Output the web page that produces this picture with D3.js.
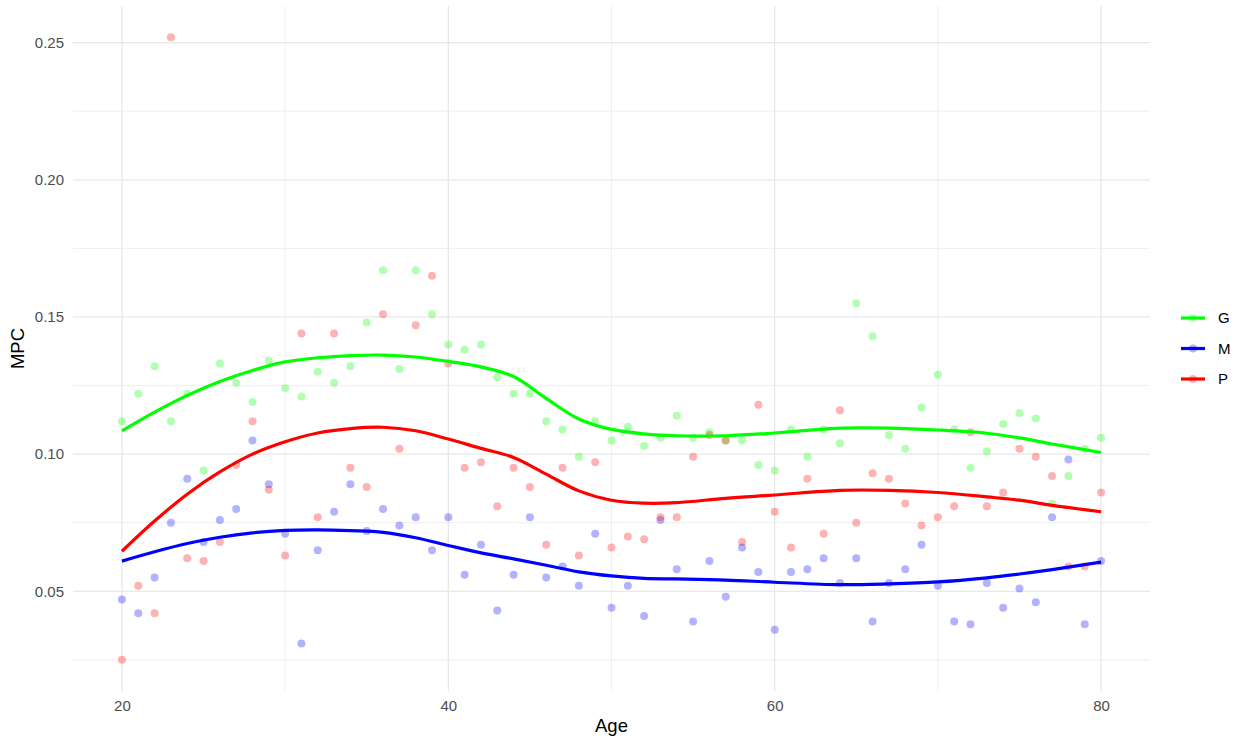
<!DOCTYPE html>
<html>
<head>
<meta charset="utf-8">
<script src="https://cdn.jsdelivr.net/npm/d3@7"></script>
<style>
  body { margin: 0; background: #fff; }
  text { font-family: "Liberation Sans", Arial, sans-serif; }
</style>
</head>
<body>
<div id="chart"></div>
<script>
// Ages on the x axis
const ages = d3.range(20, 81);

const gValues = [0.112, 0.122, 0.132, 0.112, 0.122, 0.094, 0.133, 0.126, 0.119, 0.134,
  0.124, 0.121, 0.130, 0.126, 0.132, 0.148, 0.167, 0.131, 0.167, 0.151,
  0.140, 0.138, 0.140, 0.128, 0.122, 0.122, 0.112, 0.109, 0.099, 0.112,
  0.105, 0.110, 0.103, 0.106, 0.114, 0.106, 0.108, 0.105, 0.105, 0.096,
  0.094, 0.109, 0.099, 0.109, 0.104, 0.155, 0.143, 0.107, 0.102, 0.117,
  0.129, 0.109, 0.095, 0.101, 0.111, 0.115, 0.113, 0.082, 0.092, 0.102, 0.106];
const mValues = [0.047, 0.042, 0.055, 0.075, 0.091, 0.068, 0.076, 0.080, 0.105, 0.089,
  0.071, 0.031, 0.065, 0.079, 0.089, 0.072, 0.080, 0.074, 0.077, 0.065,
  0.077, 0.056, 0.067, 0.043, 0.056, 0.077, 0.055, 0.059, 0.052, 0.071,
  0.044, 0.052, 0.041, 0.076, 0.058, 0.039, 0.061, 0.048, 0.066, 0.057,
  0.036, 0.057, 0.058, 0.062, 0.053, 0.062, 0.039, 0.053, 0.058, 0.067,
  0.052, 0.039, 0.038, 0.053, 0.044, 0.051, 0.046, 0.077, 0.098, 0.038, 0.061];
const pValues = [0.025, 0.052, 0.042, 0.252, 0.062, 0.061, 0.068, 0.096, 0.112, 0.087,
  0.063, 0.144, 0.077, 0.144, 0.095, 0.088, 0.151, 0.102, 0.147, 0.165,
  0.133, 0.095, 0.097, 0.081, 0.095, 0.088, 0.067, 0.095, 0.063, 0.097,
  0.066, 0.070, 0.069, 0.077, 0.077, 0.099, 0.107, 0.105, 0.068, 0.118,
  0.079, 0.066, 0.091, 0.071, 0.116, 0.075, 0.093, 0.091, 0.082, 0.074,
  0.077, 0.081, 0.108, 0.081, 0.086, 0.102, 0.099, 0.092, 0.059, 0.059, 0.086];

// Smoothed trend lines, read at these ages
const smoothAges = [20, 22, 24, 26, 28, 30, 32, 34, 36, 38, 40, 42, 44, 46, 48, 50, 52, 54, 57, 60, 64, 67, 70, 73, 75, 77, 80];
const gSmooth = [0.1085, 0.1153, 0.1214, 0.1265, 0.1305, 0.1336, 0.1351, 0.1359, 0.1361, 0.1354,
  0.1338, 0.1318, 0.1283, 0.1203, 0.1128, 0.1090, 0.1074, 0.1067, 0.1067, 0.1077,
  0.1095, 0.1095, 0.1088, 0.1076, 0.1059, 0.1037, 0.1006];
const mSmooth = [0.0610, 0.0644, 0.0674, 0.0697, 0.0713, 0.0722, 0.0724, 0.0721, 0.0715, 0.0695,
  0.0667, 0.0640, 0.0618, 0.0595, 0.0571, 0.0556, 0.0547, 0.0545, 0.0541, 0.0533,
  0.0524, 0.0527, 0.0534, 0.0549, 0.0563, 0.0579, 0.0606];
const pSmooth = [0.0646, 0.0756, 0.0854, 0.0935, 0.1000, 0.1045, 0.1077, 0.1093, 0.1098, 0.1085,
  0.1055, 0.1021, 0.0988, 0.0927, 0.0866, 0.0832, 0.0821, 0.0823, 0.0839, 0.0851,
  0.0868, 0.0868, 0.0860, 0.0844, 0.0832, 0.0813, 0.0790];

const seriesNames = ['G', 'M', 'P'];
const seriesColors = ['#00ff00', '#0000ff', '#ff0000'];
const xTicks = [20, 40, 60, 80];
const xMinor = [30, 50, 70];
const yTicks = [0.05, 0.10, 0.15, 0.20, 0.25];
const yMinor = [0.025, 0.075, 0.125, 0.175, 0.225];

const series = [
  { name: 'G', values: gValues, smooth: gSmooth },
  { name: 'M', values: mValues, smooth: mSmooth },
  { name: 'P', values: pValues, smooth: pSmooth }
];

const width = 1239, height = 742;
const margin = { top: 6, right: 89, bottom: 51, left: 73 };

const svg = d3.select('#chart').append('svg')
  .attr('width', width)
  .attr('height', height);

const color = d3.scaleOrdinal().domain(seriesNames).range(seriesColors);

// ggplot-style 5% expansion
const allY = gValues.concat(mValues, pValues);
const [yMin, yMax] = d3.extent(allY);
const yPad = (yMax - yMin) * 0.05;
const xPad = (80 - 20) * 0.05;

const x = d3.scaleLinear()
  .domain([20 - xPad, 80 + xPad])
  .range([margin.left, width - margin.right]);
const y = d3.scaleLinear()
  .domain([yMin - yPad, yMax + yPad])
  .range([height - margin.bottom, margin.top]);

// grid
const grid = svg.append('g');
grid.selectAll('.ymin').data(yMinor).enter().append('line')
  .attr('x1', x.range()[0]).attr('x2', x.range()[1])
  .attr('y1', d => y(d)).attr('y2', d => y(d))
  .attr('stroke', '#ebebeb').attr('stroke-width', 0.8);
grid.selectAll('.xmin').data(xMinor).enter().append('line')
  .attr('y1', y.range()[0]).attr('y2', y.range()[1])
  .attr('x1', d => x(d)).attr('x2', d => x(d))
  .attr('stroke', '#ebebeb').attr('stroke-width', 0.8);
grid.selectAll('.ymaj').data(yTicks).enter().append('line')
  .attr('x1', x.range()[0]).attr('x2', x.range()[1])
  .attr('y1', d => y(d)).attr('y2', d => y(d))
  .attr('stroke', '#e8e8e8').attr('stroke-width', 1.3);
grid.selectAll('.xmaj').data(xTicks).enter().append('line')
  .attr('y1', y.range()[0]).attr('y2', y.range()[1])
  .attr('x1', d => x(d)).attr('x2', d => x(d))
  .attr('stroke', '#e8e8e8').attr('stroke-width', 1.3);

// axes (labels only, like theme_minimal)
const xAxis = svg.append('g')
  .attr('transform', `translate(0,${height - margin.bottom})`)
  .call(d3.axisBottom(x).tickValues(xTicks).tickSize(0).tickPadding(9).tickFormat(d3.format('d')));
const yAxis = svg.append('g')
  .attr('transform', `translate(${margin.left},0)`)
  .call(d3.axisLeft(y).tickValues(yTicks).tickSize(0).tickPadding(9).tickFormat(d3.format('.2f')));
[xAxis, yAxis].forEach(a => {
  a.select('.domain').remove();
  a.selectAll('text')
    .attr('fill', '#4d4d4d')
    .style('font-size', '15px')
    .style('font-family', '"Liberation Sans", Arial, sans-serif');
});

// points
series.forEach(s => {
  svg.append('g').selectAll('circle')
    .data(ages.map((a, i) => ({ age: a, v: s.values[i] })))
    .enter().append('circle')
    .attr('cx', d => x(d.age))
    .attr('cy', d => y(d.v))
    .attr('r', 4)
    .attr('fill', color(s.name))
    .attr('fill-opacity', 0.3);
});

// smooth lines
const line = d3.line()
  .x(d => x(d.age))
  .y(d => y(d.v))
  .curve(d3.curveCatmullRom.alpha(0.5));

series.forEach(s => {
  svg.append('path')
    .datum(smoothAges.map((a, i) => ({ age: a, v: s.smooth[i] })))
    .attr('fill', 'none')
    .attr('stroke', color(s.name))
    .attr('stroke-width', 3.2)
    .attr('d', line);
});

// axis titles
svg.append('text')
  .attr('x', (x.range()[0] + x.range()[1]) / 2)
  .attr('y', 732)
  .attr('text-anchor', 'middle')
  .style('font-size', '18.5px')
  .text('Age');
svg.append('text')
  .attr('transform', `translate(24,${(y.range()[0] + y.range()[1]) / 2}) rotate(-90)`)
  .attr('text-anchor', 'middle')
  .style('font-size', '18.5px')
  .text('MPC');

// legend
const legend = svg.append('g').attr('transform', 'translate(1181,318)');
seriesNames.forEach((name, i) => {
  const row = legend.append('g').attr('transform', `translate(0,${i * 30.5})`);
  row.append('line')
    .attr('x1', 0).attr('x2', 24)
    .attr('stroke', color(name)).attr('stroke-width', 3.2);
  row.append('circle')
    .attr('cx', 12).attr('r', 4)
    .attr('fill', color(name)).attr('fill-opacity', 0.3);
  row.append('text')
    .attr('x', 37).attr('dy', '0.36em')
    .style('font-size', '15px')
    .text(name);
});
</script>
</body>
</html>
